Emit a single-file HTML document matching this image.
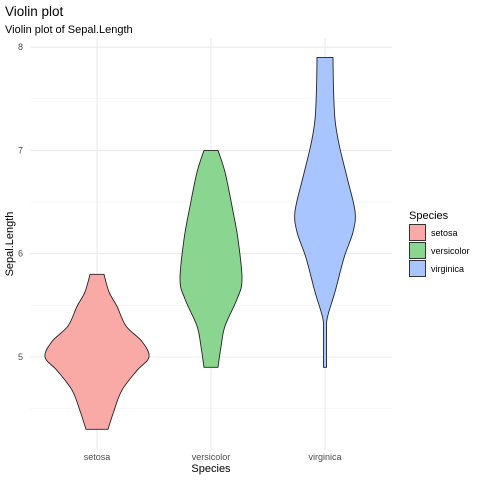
<!DOCTYPE html>
<html><head><meta charset="utf-8"><style>
body{margin:0;background:#fff}
svg{display:block;font-family:"Liberation Sans",sans-serif}
</style></head><body>
<svg id="c" width="480" height="480">
<text x="5" y="16" font-size="13.5" fill="#000">Violin plot</text>
<text x="5" y="33" font-size="11" fill="#000">Violin plot of Sepal.Length</text>
<g id="grid"></g><g id="marks"></g><g id="axes"></g>
<text x="211" y="472" font-size="11" text-anchor="middle">Species</text>
<text transform="translate(13,244) rotate(-90)" font-size="11" text-anchor="middle">Sepal.Length</text>
<g id="legend"></g>
</svg>
<script>
const categories=["setosa","versicolor","virginica"];
const colors=["#F9AAA6","#8AD690","#A8C5FF"];
const yTicks=[5,6,7,8];
const yMinor=[4.5,5.5,6.5,7.5];
const setosaY=[5.8,5.63,5.49,5.3,5.15,5.0,4.87,4.68,4.48,4.3];
const setosaW=[7,12,20,29,45,52,40,25,17,11];
const versicolorY=[7.0,6.79,6.46,6.14,5.75,5.56,5.3,5.1,4.9];
const versicolorW=[7,14,21,27,31,26,14,10,7];
const virginicaY=[7.9,7.6,7.3,7.06,6.74,6.41,6.21,5.96,5.63,5.38,5.24,4.9];
const virginicaW=[8,8.5,10,14,22,30,28,19,10,2.3,1.5,1.5];
const ys=[setosaY,versicolorY,virginicaY], ws=[setosaW,versicolorW,virginicaW];
const NS="http://www.w3.org/2000/svg";
const L=30,R=392,T=38,B=450;
function yS(v){return 357-(v-5)*103.3;}
function xS(i){return 97+i*114;}
function mk(t,a,p){const e=document.createElementNS(NS,t);for(const k in a)e.setAttribute(k,a[k]);p.appendChild(e);return e;}
const grid=document.getElementById('grid');
yMinor.forEach(v=>{const l=mk('line',{x1:L,x2:R,y1:yS(v),y2:yS(v),stroke:'#f2f2f2','stroke-width':0.6},grid);

});
yTicks.forEach(v=>{const l=mk('line',{x1:L,x2:R,y1:yS(v),y2:yS(v),stroke:'#ebebeb','stroke-width':1.1},grid);

});
categories.forEach((c,i)=>{const l=mk('line',{x1:xS(i),x2:xS(i),y1:T,y2:B,stroke:'#ebebeb','stroke-width':1.1},grid);

});
const axes=document.getElementById('axes');
yTicks.forEach(v=>{const t=mk('text',{x:23,y:yS(v)+3,'font-size':9,'text-anchor':'end',fill:'#4d4d4d'},axes);t.textContent=v;

});
categories.forEach((c,i)=>{const t=mk('text',{x:xS(i),y:460,'font-size':9,'text-anchor':'middle',fill:'#4d4d4d'},axes);t.textContent=c;

});
function spline(pts){let d='M'+pts[0][0]+','+pts[0][1];
for(let i=0;i<pts.length-1;i++){const p0=pts[Math.max(0,i-1)],p1=pts[i],p2=pts[i+1],p3=pts[Math.min(pts.length-1,i+2)];
d+=' C'+(p1[0]+(p2[0]-p0[0])/6)+','+(p1[1]+(p2[1]-p0[1])/6)+' '+(p2[0]-(p3[0]-p1[0])/6)+','+(p2[1]-(p3[1]-p1[1])/6)+' '+p2[0]+','+p2[1];}
return d;}
const marks=document.getElementById('marks');
categories.forEach((c,i)=>{const cx=xS(i);
const right=ys[i].map((v,j)=>[cx+ws[i][j],yS(v)]);
const left=ys[i].map((v,j)=>[cx-ws[i][j],yS(v)]).reverse();
const d=spline(right)+' L'+spline(left).slice(1)+' Z';
const p=mk('path',{d:d,fill:colors[i],stroke:'#222','stroke-width':0.9},marks);

});
const lg=document.getElementById('legend');
const lt=mk('text',{x:409,y:219,'font-size':11},lg);lt.textContent='Species';


categories.forEach((c,i)=>{const y=224+i*18;
const r=mk('rect',{x:409.5,y:y+0.5,width:16,height:16,fill:colors[i],stroke:'#222','stroke-width':0.9},lg);


const t=mk('text',{x:431,y:y+12,'font-size':9},lg);t.textContent=c;

});
</script>
</body></html>
